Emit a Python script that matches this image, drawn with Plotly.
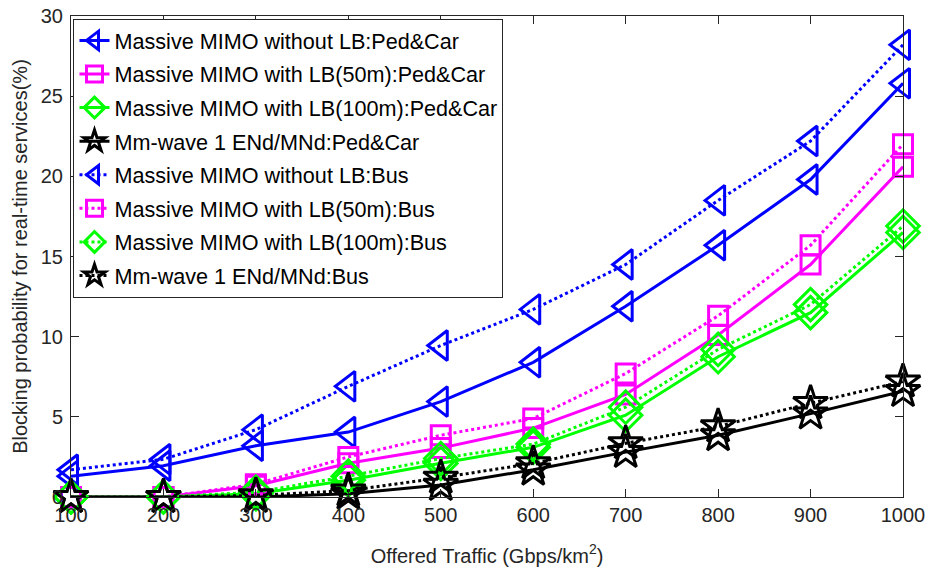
import plotly.graph_objects as go

traffic = [100, 200, 300, 400, 500, 600, 700, 800, 900, 1000]

mimo_nolb_pc = [1.3, 1.95, 3.2, 4.05, 5.95, 8.4, 11.9, 15.7, 19.8, 25.8]
mimo_lb50_pc = [0.0, 0.0, 0.7, 2.1, 3.05, 4.3, 6.4, 10.1, 14.5, 20.6]
mimo_lb100_pc = [0.0, 0.0, 0.2, 1.05, 2.1, 3.1, 5.1, 8.75, 11.5, 16.5]
mmwave_pc = [0.0, 0.0, 0.0, 0.2, 0.75, 1.7, 2.8, 3.85, 5.2, 6.6]
mimo_nolb_bus = [1.7, 2.35, 4.2, 6.9, 9.45, 11.7, 14.5, 18.5, 22.2, 28.2]
mimo_lb50_bus = [0.0, 0.0, 0.8, 2.5, 3.85, 4.9, 7.7, 11.3, 15.7, 22.0]
mimo_lb100_bus = [0.0, 0.0, 0.3, 1.3, 2.4, 3.3, 5.6, 9.2, 12.0, 16.9]
mmwave_bus = [0.0, 0.0, 0.1, 0.4, 1.2, 2.1, 3.35, 4.4, 5.85, 7.2]

x_ticks = [100, 200, 300, 400, 500, 600, 700, 800, 900, 1000]
y_ticks = [0, 5, 10, 15, 20, 25, 30]

series = [
    ("Massive MIMO without LB:Ped&Car", mimo_nolb_pc, "#0000FF", "solid", "triangle-left-open", 26),
    ("Massive MIMO with LB(50m):Ped&Car", mimo_lb50_pc, "#FF00FF", "solid", "square-open", 19),
    ("Massive MIMO with LB(100m):Ped&Car", mimo_lb100_pc, "#00FF00", "solid", "diamond-open", 25),
    ("Mm-wave 1 ENd/MNd:Ped&Car", mmwave_pc, "#000000", "solid", "star-open", 26),
    ("Massive MIMO without LB:Bus", mimo_nolb_bus, "#0000FF", "dot", "triangle-left-open", 26),
    ("Massive MIMO with LB(50m):Bus", mimo_lb50_bus, "#FF00FF", "dot", "square-open", 19),
    ("Massive MIMO with LB(100m):Bus", mimo_lb100_bus, "#00FF00", "dot", "diamond-open", 25),
    ("Mm-wave 1 ENd/MNd:Bus", mmwave_bus, "#000000", "dot", "star-open", 26),
]

fig = go.Figure()
for name, vals, color, dash, sym, size in series:
    fig.add_trace(go.Scatter(
        x=traffic, y=vals, name=name, legendgroup=name, mode="lines+markers",
        line=dict(color=color, width=3, dash=dash),
        marker=dict(symbol=sym, size=size, color=color, line=dict(color=color, width=3)),
        cliponaxis=False,
    ))

font_family = "Liberation Sans, Arial, sans-serif"
fig.update_layout(
    width=930, height=574,
    margin=dict(l=71, r=27, t=16, b=77, autoexpand=False),
    paper_bgcolor="white", plot_bgcolor="white",
    font=dict(family=font_family, color="#262626", size=18),
    showlegend=True,
    legend=dict(
        x=0.003, y=0.994, xanchor="left", yanchor="top",
        bgcolor="white", bordercolor="#262626", borderwidth=1,
        font=dict(size=21.6, color="#000000", family=font_family),
        tracegroupgap=2.5, itemwidth=30,
    ),
)
fig.update_xaxes(
    range=[100, 1000], tickvals=x_ticks, ticktext=[str(v) for v in x_ticks],
    ticks="inside", ticklen=8, tickcolor="#262626", tickwidth=1,
    showline=True, linecolor="#262626", linewidth=1, mirror="ticks",
    showgrid=False, zeroline=False, automargin=False, ticklabeloverflow="allow",
    tickfont=dict(size=20, color="#262626"),
    title=dict(text="Offered Traffic (Gbps/km<sup>2</sup>)", font=dict(size=20, color="#262626"), standoff=23),
)
fig.update_yaxes(
    range=[0, 30], tickvals=y_ticks, ticktext=[str(v) for v in y_ticks],
    ticks="inside", ticklen=8, tickcolor="#262626", tickwidth=1,
    showline=True, linecolor="#262626", linewidth=1, mirror="ticks",
    showgrid=False, zeroline=False, automargin=False, ticklabelstandoff=3,
    ticklabeloverflow="allow",
    tickfont=dict(size=20, color="#262626"),
    title=dict(text="Blocking probability for real-time services(%)", font=dict(size=20, color="#262626"), standoff=7),
)

fig.write_html(
    "out.html",
    config={"displayModeBar": False},
    post_script="document.body.style.margin='0';document.body.style.overflow='hidden';",
)
